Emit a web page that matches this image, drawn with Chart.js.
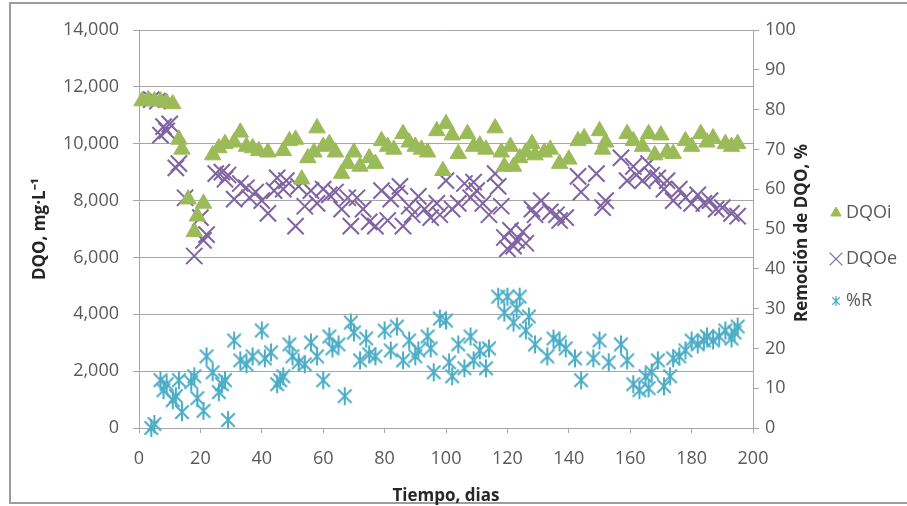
<!DOCTYPE html>
<html>
<head>
<meta charset="utf-8">
<script src="https://cdn.jsdelivr.net/npm/chart.js@4.4.1/dist/chart.umd.min.js"></script>
<style>
  html, body { margin: 0; padding: 0; background: #fff; }
  #wrap { width: 907px; height: 506px; }
</style>
</head>
<body>
<div id="wrap"><canvas id="dqoChart" width="907" height="506"></canvas></div>
<script>
// DQO influente (mg/L) por día
const dqoiDias = [1, 3, 5, 7, 9, 11, 13, 14, 16, 18,
  19, 21, 24, 26, 28, 31, 33, 35, 37, 39,
  42, 47, 49, 51, 53, 55, 57, 58, 60, 62,
  64, 66, 68, 70, 72, 75, 77, 79, 81, 83,
  86, 88, 90, 92, 94, 97, 99, 100, 102, 104,
  107, 109, 111, 113, 116, 118, 119, 121, 122, 124,
  126, 128, 129, 132, 134, 137, 140, 143, 145, 150,
  151, 152, 159, 161, 164, 166, 168, 170, 172, 174,
  178, 180, 183, 185, 187, 191, 193, 195];
const dqoiVals = [11500, 11550, 11500, 11500, 11450, 11400, 10150, 9800, 8050, 6900,
  7450, 7900, 9600, 9850, 10000, 10050, 10400, 9900, 9850, 9750,
  9700, 9750, 10100, 10150, 8750, 9500, 9700, 10550, 9900, 10000,
  9700, 8950, 9300, 9700, 9200, 9500, 9300, 10100, 9900, 9800,
  10350, 10050, 9900, 9800, 9700, 10450, 9050, 10700, 10300, 9650,
  10350, 9900, 9950, 9800, 10550, 9700, 9200, 9900, 9200, 9500,
  9700, 10000, 9600, 9700, 9800, 9300, 9450, 10100, 10200, 10450,
  9800, 10050, 10350, 10100, 9900, 10350, 9600, 10300, 9700, 9650,
  10100, 9900, 10350, 10050, 10200, 10000, 9900, 10000];

// DQO efluente (mg/L) por día
const dqoeDias = [4, 6, 7, 8, 9, 10, 12, 13, 15, 18,
  20, 21, 22, 25, 27, 28, 29, 31, 33, 35,
  36, 38, 40, 42, 44, 45, 47, 48, 51, 52,
  54, 56, 58, 60, 62, 64, 66, 68, 69, 71,
  73, 75, 77, 79, 81, 82, 84, 85, 86, 88,
  89, 91, 93, 95, 97, 98, 100, 102, 104, 106,
  108, 109, 110, 112, 114, 116, 117, 118, 119, 120,
  121, 122, 123, 125, 126, 128, 129, 131, 134, 136,
  137, 139, 143, 144, 149, 151, 152, 157, 159, 161,
  162, 164, 166, 167, 169, 171, 172, 174, 176, 178,
  180, 182, 184, 186, 188, 190, 193, 195];
const dqoeVals = [11550, 11500, 10300, 10600, 10450, 10700, 9150, 9300, 8100, 6050,
  7400, 6600, 6800, 8950, 9000, 8750, 8900, 8050, 8600, 8450,
  8100, 8300, 8000, 7550, 8350, 8800, 8400, 8700, 7100, 8500,
  7800, 8350, 7900, 8400, 8200, 8300, 7700, 8100, 7100, 8100,
  7700, 7250, 7100, 8350, 7300, 8050, 8250, 8500, 7100, 7800,
  7500, 8150, 7700, 7400, 7900, 7500, 8700, 7700, 7900, 8600,
  8100, 8650, 8350, 7900, 7500, 8950, 8500, 7800, 6700, 6300,
  6950, 6400, 6600, 6900, 6500, 7700, 7500, 8000, 7600, 7500,
  7300, 7400, 8850, 8300, 8950, 7750, 8000, 9500, 8700, 9200,
  8900, 8700, 9300, 8900, 8800, 8400, 8700, 8000, 8400, 8100,
  7900, 8200, 7900, 8000, 7700, 7750, 7550, 7450];

// Remoción de DQO (%) por día
const remDias = [4, 5, 7, 8, 9, 11, 12, 13, 14, 17,
  18, 19, 21, 22, 24, 26, 27, 28, 29, 31,
  33, 35, 37, 40, 41, 43, 45, 46, 47, 49,
  50, 52, 54, 56, 58, 60, 62, 63, 65, 67,
  69, 70, 72, 74, 75, 77, 80, 82, 84, 86,
  88, 90, 91, 94, 95, 96, 98, 100, 101, 102,
  104, 106, 108, 109, 111, 113, 114, 117, 119, 120,
  122, 123, 124, 126, 127, 129, 133, 135, 137, 139,
  142, 144, 148, 150, 153, 157, 159, 161, 163, 165,
  166, 167, 169, 171, 173, 174, 176, 178, 180, 182,
  184, 185, 187, 189, 191, 193, 194, 195];
const remVals = [0, 1, 12, 9.5, 11, 7, 8, 12, 4, 11.5,
  13, 7.5, 4.3, 18, 14, 9, 11, 12, 2, 22,
  17, 16, 18, 24.5, 17.5, 19, 11, 12, 13, 21,
  18, 16.5, 16, 21.5, 18, 12, 23, 20, 21, 8,
  26.5, 24, 17, 22.5, 18.5, 18, 24.5, 19.5, 25.5, 17,
  22, 18, 19.5, 23, 20, 14, 27.5, 27, 16.5, 13,
  21, 15, 23, 17, 19.5, 15, 20, 33, 29, 33,
  26.5, 30, 33, 24.5, 28, 21, 18, 22.5, 21.5, 20,
  17.5, 12, 17.5, 22, 16.5, 21, 17, 11, 9.5, 13,
  10, 14, 17, 10.5, 13, 17.5, 18, 19.5, 22, 21,
  22, 23, 22, 23, 24.5, 22.5, 24, 25.5];

const etiquetas = ["DQOi", "DQOe", "%R"];

const verde = "#9bbb59";
const morado = "#8064a2";
const celeste = "#4bacc6";
const gris = "#a6a6a6";
const texto = "#595959";

//Asterisk marker (x plus vertical stroke), like the spreadsheet "star"
function asterisco(color, size, lw) {
  const c = document.createElement("canvas");
  c.width = size;
  c.height = size;
  const g = c.getContext("2d");
  const m = size / 2;
  const r = size / 2 - 1;
  const d = r * 0.75;
  g.strokeStyle = color;
  g.lineWidth = lw;
  g.beginPath();
  g.moveTo(m - d, m - d); g.lineTo(m + d, m + d);
  g.moveTo(m + d, m - d); g.lineTo(m - d, m + d);
  g.moveTo(m, m - r); g.lineTo(m, m + r);
  g.stroke();
  return c;
}
const estrella = asterisco(celeste, 20, 2);
const estrellaLeyenda = asterisco(celeste, 12, 1.2);

const puntos = (xs, ys) => xs.map((x, i) => ({ x: x, y: ys[i] }));

//White background and grey outer frame
const marco = {
  id: "marco",
  beforeDraw(chart) {
    const ctx = chart.ctx;
    ctx.save();
    ctx.fillStyle = "#fff";
    ctx.fillRect(0, 0, chart.width, chart.height);
    ctx.strokeStyle = "#9c9c9c";
    ctx.lineWidth = 2;
    ctx.strokeRect(10, 3, chart.width + 10, 500);
    ctx.restore();
  },
};

//Right title reads bottom to top, and a legend placed like the original
const extras = {
  id: "extras",
  afterDraw(chart) {
    const ctx = chart.ctx;
    const area = chart.chartArea;
    ctx.save();
    ctx.fillStyle = "#262626";
    ctx.font = "bold 17px 'Open Sans'";
    ctx.textAlign = "center";
    ctx.textBaseline = "middle";
    ctx.translate(802, (area.top + area.bottom) / 2 + 4);
    ctx.rotate(-Math.PI / 2);
    ctx.fillText("Remoción de DQO, %", 0, 0);
    ctx.restore();

    const filas = [213, 259, 301];
    const estilos = [
      { pointStyle: "triangle", radius: 6, borderWidth: 1, borderColor: verde, backgroundColor: verde },
      { pointStyle: "crossRot", radius: 9, borderWidth: 1.2, borderColor: morado, backgroundColor: morado },
      { pointStyle: estrellaLeyenda, radius: 6, borderWidth: 1, borderColor: celeste, backgroundColor: celeste },
    ];
    ctx.save();
    chart.data.datasets.forEach((ds, i) => {
      const o = estilos[i];
      ctx.fillStyle = o.backgroundColor;
      ctx.strokeStyle = o.borderColor;
      ctx.lineWidth = o.borderWidth;
      Chart.helpers.drawPoint(ctx, o, 836, filas[i]);
      ctx.fillStyle = texto;
      ctx.font = "18px 'Open Sans'";
      ctx.textAlign = "left";
      ctx.textBaseline = "middle";
      ctx.fillText(ds.label, 846, filas[i]);
    });
    ctx.restore();
  },
};

const ctx = document.getElementById("dqoChart").getContext("2d");
new Chart(ctx, {
  type: "scatter",
  data: {
    datasets: [
      {
        label: etiquetas[0],
        data: puntos(dqoiDias, dqoiVals),
        yAxisID: "y",
        pointStyle: "triangle",
        pointRadius: 9.5,
        pointBackgroundColor: verde,
        pointBorderColor: verde,
        pointBorderWidth: 1,
        clip: false,
      },
      {
        label: etiquetas[1],
        data: puntos(dqoeDias, dqoeVals),
        yAxisID: "y",
        pointStyle: "crossRot",
        pointRadius: 11.5,
        pointBorderColor: morado,
        pointBackgroundColor: morado,
        pointBorderWidth: 2,
        clip: false,
      },
      {
        label: etiquetas[2],
        data: puntos(remDias, remVals),
        yAxisID: "y2",
        pointStyle: estrella,
        pointRadius: 10,
        pointBorderColor: celeste,
        pointBackgroundColor: celeste,
        clip: false,
      },
    ],
  },
  options: {
    responsive: false,
    animation: false,
    devicePixelRatio: 1,
    layout: { padding: { left: 0, right: 0, top: 30, bottom: 0 } },
    plugins: {
      legend: { display: false },
      tooltip: { enabled: false },
    },
    scales: {
      x: {
        type: "linear",
        min: 0,
        max: 200,
        ticks: {
          stepSize: 20,
          padding: 15,
          color: texto,
          font: { family: "Open Sans", size: 18 },
        },
        grid: { drawOnChartArea: false, tickLength: 5, color: gris },
        border: { color: gris },
        title: {
          display: true,
          text: "Tiempo, dias",
          color: "#262626",
          padding: { top: 0, bottom: 0 },
          font: { family: "Open Sans", size: 17, weight: "bold" },
        },
        afterFit: (scale) => { scale.height = 78; },
      },
      y: {
        position: "left",
        min: 0,
        max: 14000,
        ticks: {
          stepSize: 2000,
          padding: 14,
          color: texto,
          font: { family: "Open Sans", size: 18 },
          callback: (v) => v.toLocaleString("en-US"),
        },
        grid: { color: gris, tickLength: 6 },
        border: { color: gris },
        title: {
          display: true,
          text: "DQO, mg·L⁻¹",
          color: "#262626",
          padding: { top: 30, bottom: 0 },
          font: { family: "Open Sans", size: 17, weight: "bold" },
        },
        afterFit: (scale) => { scale.width = 139; },
      },
      y2: {
        position: "right",
        min: 0,
        max: 100,
        ticks: {
          stepSize: 10,
          padding: 6,
          color: texto,
          font: { family: "Open Sans", size: 18 },
        },
        grid: { drawOnChartArea: false, color: gris, tickLength: 6 },
        border: { color: gris },
        afterFit: (scale) => { scale.width = 154; },
      },
    },
  },
  plugins: [marco, extras],
});
</script>
</body>
</html>
